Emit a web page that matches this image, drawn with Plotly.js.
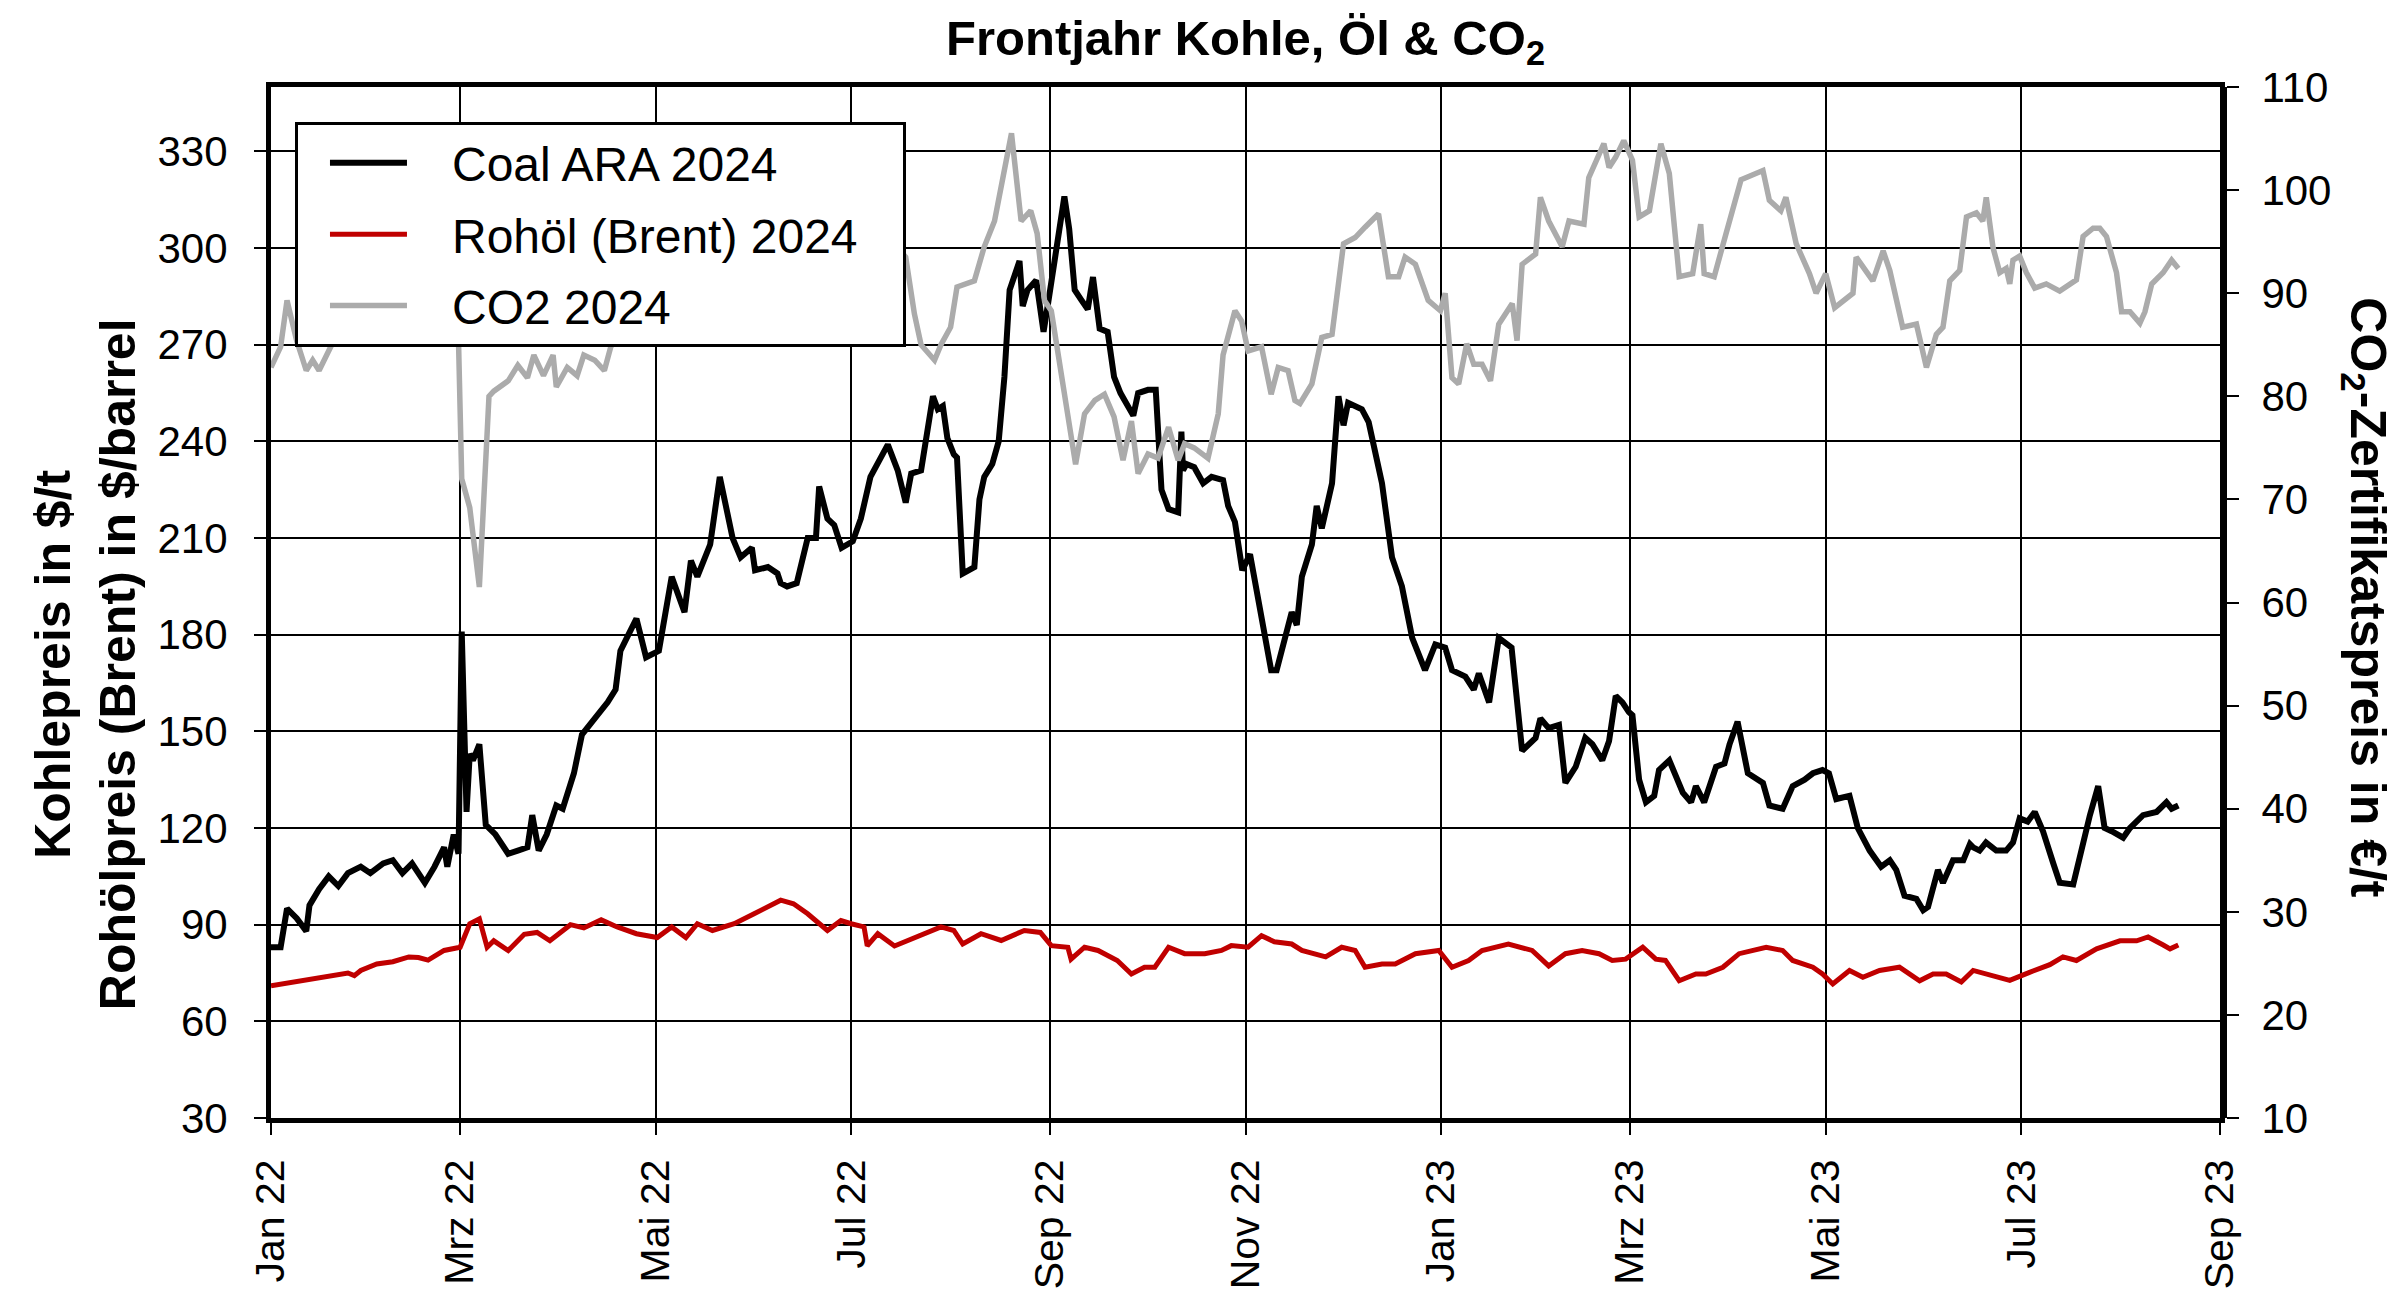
<!DOCTYPE html>
<html>
<head>
<meta charset="utf-8">
<script src="https://cdn.plot.ly/plotly-3.0.1.min.js"></script>
<style>
  html, body { margin: 0; padding: 0; background: white; }
  #plotarea { width: 2400px; height: 1296px; }
</style>
</head>
<body>
<div id="plotarea"></div>
<script>
let kohleTage = [
    0, 3, 5, 8, 11, 12, 15, 18, 21, 24,
    28, 31, 35, 38, 41, 44, 48, 51, 54, 55,
    57, 58.5, 59.5, 61, 62, 63, 65, 67, 70, 74,
    77, 80, 81.5, 83.5, 86, 89, 91, 94.5, 97, 101,
    103, 105, 107.5, 109, 111, 114, 117, 121, 125, 129,
    131, 133, 137, 140, 144, 146.5, 150, 151, 155, 158,
    159, 161, 164, 167.4, 170, 171, 173.6, 175.7, 178, 181.5,
    184, 187, 192.4, 195.5, 198, 199.7, 202.8, 206.5, 208, 209.6,
    211, 213, 214, 215.8, 219.4, 221, 222.5, 225, 227, 228.8,
    230.4, 233.5, 234.5, 236, 238.7, 240, 241, 242.3, 245, 247.5,
    249, 250.7, 252.7, 254.8, 256.4, 258.5, 261, 263, 265, 269,
    270.5, 273.6, 276, 277.8, 280, 283, 284, 284.5, 285.6, 288,
    290.8, 293.4, 297, 298.6, 300.7, 303, 305.4, 309, 312, 313.7,
    316.3, 318.4, 320, 321.6, 324.7, 326.2, 327.8, 331, 333, 334.6,
    336, 340.3, 342.4, 346.6, 349.7, 352.8, 356, 360, 363.2, 366.3,
    368.4, 372.6, 375.2, 376.8, 380, 383, 387, 390.3, 394.5, 396,
    398.6, 401.8, 403.8, 407, 410, 412.2, 415.3, 417.4, 419.5, 421.6,
    423.6, 424.7, 426.8, 428.9, 431.5, 433, 436.2, 438.8, 440.4, 443,
    444.5, 447.1, 450.8, 453.4, 455, 457.5, 460.7, 465.4, 467.4, 471.6,
    474.7, 478.4, 481, 484, 486, 488.3, 492.4, 495, 498.7, 502.3,
    505, 507, 509.6, 513.3, 515.4, 516.9, 520, 521.6, 524.7, 527.9,
    530, 531, 533, 535, 538.2, 541.3, 543.4, 545.5, 548, 550.2,
    552.8, 556, 558, 562.2, 564.8, 567.4, 570, 572, 574.2, 577.8,
    579.9, 584, 588.2, 591.3, 592.9, 595
];
let kohleWerte = [
    83, 83, 95, 92, 88, 96, 101, 105, 102, 106,
    108, 106, 109, 110, 106, 109, 103, 108, 114, 108,
    118, 112, 181, 125, 143, 141, 146, 121, 118, 112,
    113, 114, 124, 113, 118, 127, 126, 137, 149, 154,
    156, 159, 163, 175, 179, 185, 173, 175, 198, 187,
    203, 198, 208, 229, 210, 204, 207, 200, 201, 199,
    196, 195, 196, 210, 210, 226, 216, 214, 207, 209,
    216, 229, 239, 231, 221, 230, 231, 254, 250, 251,
    241, 236, 235, 199, 201, 222, 229, 233, 240, 260,
    287, 296, 282, 287, 290, 280, 274, 282, 299, 316,
    306, 287, 284, 281, 291, 275, 274, 260, 255, 248,
    255, 256, 256, 225, 219, 218, 243, 231, 233, 232,
    227, 229, 228, 220, 215, 200, 205, 185, 169, 169,
    179, 187, 183, 198, 208, 220, 213, 227, 254, 245,
    252, 250, 246, 227, 204, 195, 179, 169, 177, 176,
    169, 167, 163, 168, 159, 179, 176, 144, 148, 154,
    151, 152, 134, 139, 148, 146, 141, 147, 161, 159,
    156, 155, 135, 128, 130, 138, 141, 135, 131, 128,
    133, 128, 139, 140, 146, 153, 137, 134, 127, 126,
    133, 135, 137, 138, 137, 129, 130, 120, 113, 108,
    110, 107, 99, 98, 94.5, 95.5, 107, 103, 110, 110,
    115, 114, 113, 115.5, 113, 113, 115.5, 123, 122, 125,
    119, 109, 103, 102.5, 114, 124, 133, 120, 119, 117,
    120, 124, 125, 128, 126, 127
];

let oelTage = [
    0, 9, 14, 20, 24, 26, 28, 33, 38, 43,
    46, 49, 52, 54, 59, 62, 65, 67.4,
    69.5, 74, 79, 83, 87, 93.4, 97.6, 103, 108, 114,
    120.5, 125, 129.4, 133, 137.7, 144.5, 150.7, 159, 163, 167.4,
    173.6, 177.8, 181, 185, 186, 189.3, 194.5, 200.7, 209, 213,
    215.8, 221.5, 227.8, 235, 240, 243.4, 248.6, 249.6, 253.8, 258,
    264, 268.4, 272.5, 275.7, 280, 285, 291.3, 296.5, 299.6, 304.8,
    309, 313, 318.4, 321.6, 329, 334, 338.2, 341.3, 346.6, 350.7,
    357, 364.3, 368.4, 373.6, 377.8, 386, 393.4, 398.6, 403.8, 409,
    414.3, 418.4, 422.6, 427.9, 432, 435, 439.3, 444.5, 447.6, 452.9,
    458, 466.4, 471.6, 474.7, 481, 484, 487.2, 492.4, 496.6, 501.8,
    508, 514.3, 518.5, 522.6, 527.3, 531, 538.2, 542.4, 548.6, 554.9,
    559, 563.2, 569.5, 576.8, 582, 585.6, 590.3, 592.4, 595
];
let oelWerte = [
    71, 72.6, 73.5, 74.5, 75, 74.2, 75.8, 77.8, 78.5, 80,
    79.8, 79, 81, 82, 83, 90.3, 91.8, 83,
    85, 82, 87, 87.6, 85, 90, 89, 91.5, 89.3, 87.2,
    86, 89.3, 86, 90.3, 88.2, 90.3, 93.4, 97.6, 96.5, 93.4,
    88.2, 91.3, 90.3, 89.3, 83.4, 87.2, 83.4, 86, 89.3, 88.2,
    84, 87.2, 85.1, 88.2, 87.6, 83.5, 83, 79.3, 83, 82,
    78.9, 74.7, 76.8, 76.8, 83, 81, 81, 82, 83.5, 83,
    86.6, 84.7, 84, 82, 80, 83, 82, 76.8, 77.8, 77.8,
    81, 82, 76.8, 78.9, 82, 84, 82, 77.2, 81, 82,
    81, 78.9, 79.3, 83, 79.3, 78.9, 72.6, 74.7, 74.7, 76.8,
    81, 83, 82, 78.9, 76.8, 74.7, 71.6, 75.8, 73.7, 75.8,
    76.8, 72.6, 74.7, 74.7, 72.2, 75.8, 74, 72.7, 75.2, 77.6,
    80, 78.9, 82.5, 85, 85, 86.2, 83.7, 82.5, 83.7
];

let co2Tage = [
    0, 3, 5, 8, 11, 13, 15, 17.4, 19, 24,
    30, 36, 42, 48, 54, 58, 59.5, 62, 65, 68,
    69.5, 74, 77, 80, 82, 85, 88, 89, 92.4, 95.5,
    97.6, 101, 104, 106, 110, 116, 122, 128, 134, 140,
    146, 152, 158, 164, 170, 176, 182, 188, 194, 198,
    200.7, 202.8, 207, 209, 212, 214, 219.4, 222.5, 225.7, 228.8,
    231, 234, 237, 239, 241.3, 243.4, 246.5, 249.6, 251, 253.8,
    257, 260, 263, 265.8, 268.4, 270.5, 273.6, 276.7, 280, 283,
    285, 288, 292.3, 295.5, 297, 300.7, 302.8, 304.8, 309, 312,
    314.2, 317.3, 319.4, 321, 324.7, 327.8, 331, 334.6, 338.2, 341.3,
    345.5, 348.6, 351.8, 353.8, 357, 361, 364.8, 366.3, 368.4, 370.5,
    373, 375.2, 377.8, 380.4, 383, 387.2, 388.7, 390.3, 394.5, 396,
    398.6, 402.8, 404.9, 409.6, 411.1, 415.8, 417.4, 419.5, 422, 424.7,
    426.8, 430, 433.6, 436.2, 439.3, 443.5, 446, 447.1, 450.2, 453.9,
    458.6, 465.4, 467.4, 471, 472.6, 475.8, 479.9, 482, 485, 487.8,
    493.5, 494.5, 498.7, 499.7, 502.9, 505, 509, 513.3, 516.4, 519.5,
    521.6, 523.7, 526.8, 528.9, 532, 534, 535.1, 537.2, 539.3, 541.3,
    542.4, 543.4, 545.5, 547.6, 550.2, 553.8, 558, 561.1, 563.2, 565.3,
    568.4, 570.5, 572.6, 575.7, 577.3, 579.9, 583, 584.6, 586.7, 590.3,
    592.9, 595
];
let co2Werte = [
    82.8, 84.8, 89.3, 85.4, 82.5, 83.5, 82.5, 84, 85, 88,
    92, 95, 96, 94, 92, 92, 72, 69.2, 61.5, 80,
    80.5, 81.5, 83, 81.8, 84, 82, 84, 80.9, 82.8, 82,
    84, 83.5, 82.5, 84.8, 87, 90, 88, 91, 89, 92,
    90, 88, 91, 93, 90, 88, 90, 92, 95, 93.5,
    88, 85, 83.5, 85, 86.7, 90.6, 91.2, 94.5, 97, 101.6,
    105.5, 97, 98, 95.8, 89.3, 88.3, 82.2, 75.7, 73.4, 78.3,
    79.6, 80.2, 78, 73.8, 77.6, 72.5, 74.4, 74, 77, 73.8,
    75.4, 75, 74, 78.3, 84, 88.3, 87.3, 84.4, 84.8, 80.2,
    82.8, 82.5, 79.6, 79.3, 81.2, 85.7, 86, 94.8, 95.4, 96.4,
    97.7, 91.6, 91.6, 93.5, 92.8, 89.3, 88.3, 90, 81.8, 81.2,
    85.1, 83.1, 83.1, 81.5, 87, 89, 85.4, 92.8, 93.8, 99.3,
    97, 94.5, 97, 96.7, 101.2, 104.5, 102.2, 103.2, 104.8, 102.9,
    97.4, 98, 104.5, 101.6, 91.6, 91.9, 96.7, 91.9, 91.6, 95.8,
    101, 101.9, 99, 98, 99.3, 94.8, 91.9, 90, 91.9, 88.6,
    90, 93.5, 91.6, 91.2, 94.1, 92.2, 86.7, 87, 82.8, 86,
    86.7, 91.2, 92.2, 97.4, 97.8, 97, 99.3, 94.4, 92, 92.4,
    90.9, 93.2, 93.6, 92, 90.5, 90.9, 90.2, 90.9, 91.3, 95.5,
    96.3, 96.3, 95.5, 92, 88.2, 88.2, 87.1, 88.2, 90.9, 92,
    93.2, 92.4
];

let tickDaten = ['2022-01-01', '2022-03-01', '2022-05-01', '2022-07-01', '2022-09-01', '2022-11-01',
                 '2023-01-01', '2023-03-01', '2023-05-01', '2023-07-01', '2023-09-01'];
let tickTexte = ['Jan 22', 'Mrz 22', 'Mai 22', 'Jul 22', 'Sep 22', 'Nov 22',
                 'Jan 23', 'Mrz 23', 'Mai 23', 'Jul 23', 'Sep 23'];
let preisTicks = [30, 60, 90, 120, 150, 180, 210, 240, 270, 300, 330];
let co2Ticks = [10, 20, 30, 40, 50, 60, 70, 80, 90, 100, 110];

//Tag seit Jahresbeginn 2022 -> Datumstext fuer Plotly
function zuDatum(d){
    let t = new Date(Date.UTC(2022, 0, 1) + Math.round(d * 24) * 3600000);
    return t.toISOString().slice(0, 16).replace('T', ' ');
}

let schrift = 'Liberation Sans, Arial, sans-serif';
let luecke = '\u00a0\u00a0\u00a0';   // Abstand zwischen Linie und Text in der Legende

let trace1 = {
    x: kohleTage.map(zuDatum),
    y: kohleWerte,
    name: luecke + 'Coal ARA 2024',
    mode: 'lines',
    legendgroup: 'a',
    line: {color: '#000000', width: 6}
}
let trace2 = {
    x: oelTage.map(zuDatum),
    y: oelWerte,
    name: luecke + 'Rohöl (Brent) 2024\u00a0\u00a0\u00a0',
    mode: 'lines',
    legendgroup: 'b',
    line: {color: '#C00000', width: 5}
}
let trace3 = {
    x: co2Tage.map(zuDatum),
    y: co2Werte,
    name: luecke + 'CO2 2024',
    mode: 'lines',
    yaxis: 'y2',
    legendgroup: 'c',
    line: {color: '#ABABAB', width: 5.5}
}

let layout = {
    width: 2400,
    height: 1296,
    paper_bgcolor: 'white',
    plot_bgcolor: 'white',
    font: {family: schrift, color: 'black', size: 41},
    margin: {l: 271, r: 180, t: 87, b: 178},
    title: {
        text: '<b>Frontjahr Kohle, Öl & CO<sub>2</sub></b>',
        font: {family: schrift, size: 49, color: 'black'},
        xref: 'paper', x: 0.5, xanchor: 'center',
        yref: 'container', y: 0.971, yanchor: 'middle'
    },
    showlegend: true,
    legend: {
        x: 0.0123, y: 0.966, xanchor: 'left', yanchor: 'top',
        bgcolor: 'white', bordercolor: 'black', borderwidth: 3,
        font: {family: schrift, size: 48, color: 'black'},
        indentation: 27, itemwidth: 77, tracegroupgap: 6
    },
    xaxis: {
        type: 'date',
        range: ['2022-01-01', '2023-09-01'],
        tickmode: 'array',
        tickvals: tickDaten,
        ticktext: tickTexte,
        tickangle: -90,
        ticks: 'outside', ticklen: 12, tickwidth: 2, tickcolor: 'black',
        ticklabelstandoff: 8,
        tickfont: {family: schrift, size: 41, color: 'black'},
        showgrid: true, gridcolor: 'black', gridwidth: 2,
        showline: true, linecolor: 'black', linewidth: 5, mirror: true,
        zeroline: false
    },
    yaxis: {
        range: [30, 350],
        tickmode: 'array',
        tickvals: preisTicks,
        ticks: 'outside', ticklen: 12, tickwidth: 2, tickcolor: 'black',
        ticklabelstandoff: 18,
        tickfont: {family: schrift, size: 42, color: 'black'},
        showgrid: true, gridcolor: 'black', gridwidth: 2,
        showline: true, linecolor: 'black', linewidth: 5, mirror: true,
        zeroline: false
    },
    yaxis2: {
        overlaying: 'y',
        side: 'right',
        range: [10, 110],
        tickmode: 'array',
        tickvals: co2Ticks,
        ticks: 'outside', ticklen: 12, tickwidth: 2, tickcolor: 'black',
        ticklabelstandoff: 14,
        tickfont: {family: schrift, size: 42, color: 'black'},
        showgrid: false,
        showline: true, linecolor: 'black', linewidth: 7,
        zeroline: false
    },
    annotations: [
        {
            text: '<b>Kohlepreis in $/t<br>Rohölpreis (Brent) in $/barrel</b>',
            xref: 'paper', yref: 'paper', x: -0.095, y: 0.44,
            xanchor: 'center', yanchor: 'middle',
            textangle: -90, showarrow: false,
            font: {family: schrift, size: 50, color: 'black'}
        },
        {
            text: '<b>CO<sub>2</sub>-Zertifikatspreis in €/t</b>',
            xref: 'paper', yref: 'paper', x: 1.0744, y: 0.505,
            xanchor: 'center', yanchor: 'middle',
            textangle: 90, showarrow: false,
            font: {family: schrift, size: 50, color: 'black'}
        }
    ]
}

Plotly.newPlot('plotarea', [trace1, trace2, trace3], layout, {displaylogo: false, displayModeBar: false, staticPlot: true});
</script>
</body>
</html>
